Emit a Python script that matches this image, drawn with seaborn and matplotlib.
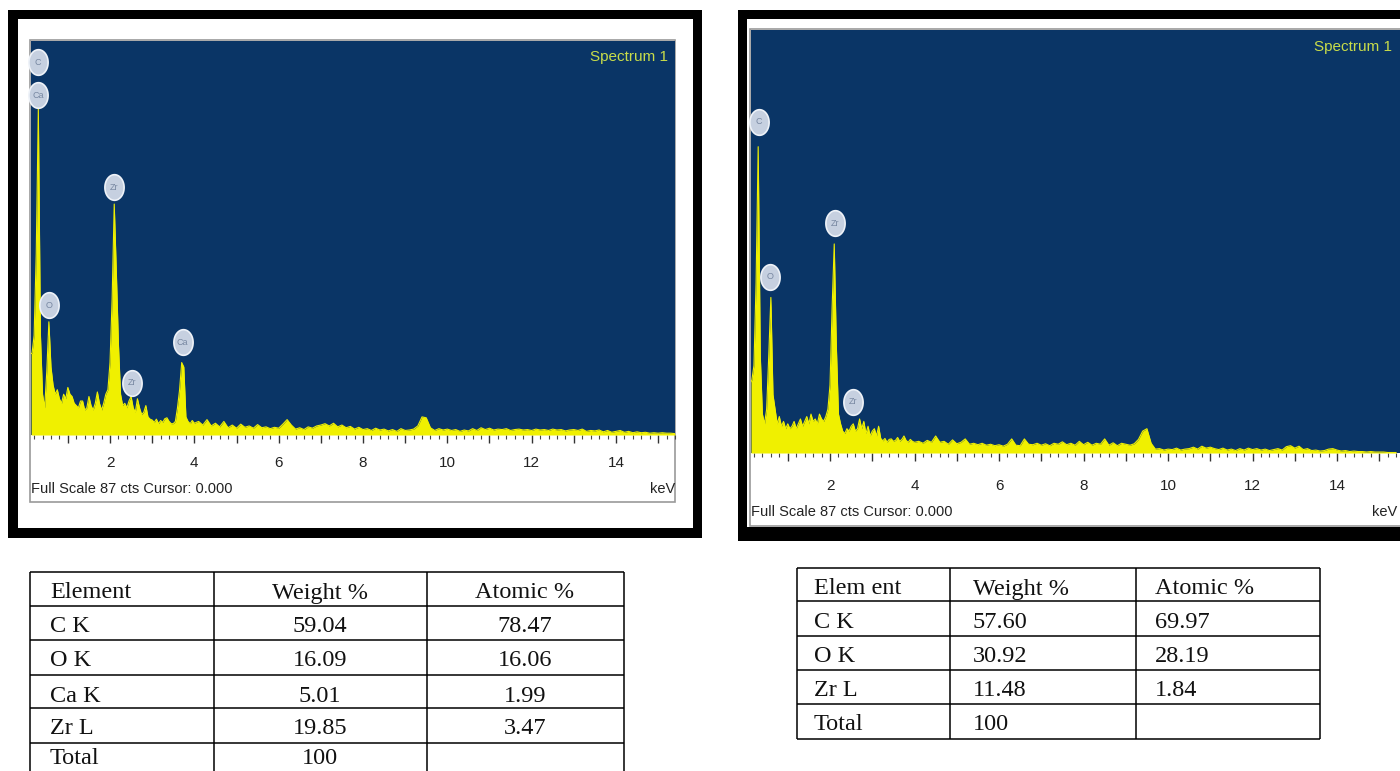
import numpy as np
import matplotlib
matplotlib.use("Agg")
import matplotlib.pyplot as plt
import seaborn as sns
from matplotlib.patches import Rectangle
from matplotlib.path import Path

# ---------------- data ----------------
energy_low = np.concatenate([[0.13], np.round(np.arange(0.15, 4.0001, 0.05), 2)])
energy_high = np.round(np.arange(4.1, 15.4001, 0.1), 1)
energy_keV = np.concatenate([energy_low, energy_high])

counts_left_low = [
    18, 18, 22, 40, 72, 22, 9, 6, 14,
    25, 15, 11, 9, 10, 8, 7, 9, 8, 10.5,
    9, 8.5, 7, 6.5, 6, 7.5, 7.5, 5.5, 6, 8.5,
    6.5, 5.5, 7, 9.5, 7, 5.5, 7, 9, 10, 16,
    30, 51, 36, 20, 9, 6.5, 7, 6, 7.5, 8.5,
    6, 5, 8, 6, 4.5, 5, 6.5, 4, 3.5, 3.3,
    2.8, 3.5, 2.5, 3.2, 2.8, 3.6, 3.8, 3.0, 2.5, 2.5,
    3.0, 6, 10, 16, 15, 4, 3, 2.5, 3.2, 2.6,
]
counts_left_high = [
    3.0, 2.2, 3.4, 2.0, 2.6, 1.8, 3.0, 1.6, 2.2, 1.5,
    2.4, 1.7, 2.0, 1.5, 2.3, 1.6, 1.8, 1.4, 1.7, 1.5,
    2.4, 3.4, 2.2, 1.3, 1.6, 1.2, 1.8, 1.5, 2.0, 2.2,
    2.5, 2.0, 2.6, 1.8, 2.2, 1.6, 1.9, 1.3, 1.7, 1.2,
    1.4, 1.0, 1.5, 1.1, 1.3, 0.9, 1.2, 0.8, 1.4, 1.0,
    1.1, 1.3, 2.0, 4.0, 3.8, 1.6, 1.0, 1.4, 1.1, 1.3,
    1.0, 1.2, 0.8, 1.1, 0.9, 1.4, 1.0, 1.6, 1.2, 1.5,
    1.1, 1.3, 1.2, 1.4, 1.0, 1.2, 1.3, 1.1, 1.2, 1.0,
    1.3, 1.1, 1.2, 1.0, 1.3, 1.1, 1.2, 0.9, 1.1, 1.2,
    1.0, 1.3, 0.8, 1.0, 0.9, 1.1, 0.7, 1.0, 0.6, 0.8,
    1.0, 0.6, 0.8, 0.5, 0.7, 0.5, 0.6, 0.4, 0.5, 0.4,
    0.5, 0.4, 0.4, 0.3,
]
counts_right_low = [
    14.6, 15, 18, 35, 63, 20, 8, 6, 9,
    20, 32, 12, 9, 6, 7.5, 5.5, 6.5, 5, 6,
    5, 5.5, 6.5, 5, 6, 7, 5.5, 6.5, 7.5, 6,
    8, 6.5, 7, 6, 8, 7, 6.5, 7.5, 9, 14,
    30, 43, 22, 8, 6, 4.5, 4, 5, 4.5, 5.5,
    6, 4.5, 5, 7, 5, 6.5, 4, 5.5, 3.5, 4.5,
    5, 3.5, 5.5, 3, 2.5, 3, 2.2, 2.8, 2.9, 2.4,
    2.6, 3.2, 2.4, 2.8, 3.5, 2.6, 2.2, 2.8, 2.4, 2.2,
]
counts_right_high = [
    2.4, 2.0, 2.6, 2.2, 3.5, 2.2, 2.4, 1.8, 2.7, 1.9,
    2.2, 2.9, 1.8, 2.0, 1.7, 2.0, 1.6, 1.8, 1.5, 1.7,
    1.4, 1.8, 2.9, 1.6, 1.5, 2.9, 1.8, 1.7, 2.0, 1.6,
    1.9, 1.5, 2.0, 1.8, 2.3, 1.7, 2.0, 1.6, 2.4, 1.7,
    2.2, 1.6, 2.0, 1.8, 2.9, 1.6, 2.1, 1.5, 2.0, 1.8,
    1.6, 1.9, 2.8, 4.5, 5.0, 2.0, 0.8, 0.9, 0.6, 0.8,
    0.7, 1.0, 0.6, 0.8, 0.9, 1.2, 0.8, 1.4, 1.0, 1.2,
    0.9, 0.7, 1.0, 0.6, 0.8, 0.5, 0.9, 0.6, 1.0, 0.7,
    0.9, 0.6, 0.8, 0.5, 0.7, 0.9, 0.6, 1.3, 1.5, 1.0,
    1.4, 0.7, 0.9, 0.5, 0.6, 0.4, 0.5, 0.8, 0.9, 0.6,
    0.4, 0.5, 0.3, 0.4, 0.3, 0.3, 0.2, 0.3, 0.2, 0.2,
    0.2, 0.1, 0.1, 0.1,
]
counts_left = np.array(counts_left_low + counts_left_high)
counts_right = np.array(counts_right_low + counts_right_high)

left_peak_labels = ["C", "Ca", "O", "Zr", "Zr", "Ca"]
left_peak_keV = [0.29, 0.29, 0.55, 2.10, 2.52, 3.72]
left_peak_cts = [82.3, 75.0, 28.7, 54.7, 11.5, 20.5]
right_peak_labels = ["C", "O", "Zr", "Zr"]
right_peak_keV = [0.31, 0.59, 2.11, 2.54]
right_peak_cts = [68.1, 36.2, 47.3, 10.5]

tick_labels = ["", "2", "", "4", "", "6", "", "8", "", "10", "", "12", "", "14", ""]
full_scale_text = "Full Scale 87 cts Cursor: 0.000"
spectrum_title = "Spectrum 1"

table_header = ["Element", "Weight %", "Atomic %"]
table1_element = ["C K", "O K", "Ca K", "Zr L", "Total"]
table1_weight = ["59.04", "16.09", "5.01", "19.85", "100"]
table1_atomic = ["78.47", "16.06", "1.99", "3.47", ""]
table2_header = ["Elem ent", "Weight %", "Atomic %"]
table2_element = ["C K", "O K", "Zr L", "Total"]
table2_weight = ["57.60", "30.92", "11.48", "100"]
table2_atomic = ["69.97", "28.19", "1.84", ""]

# ---------------- style ----------------
sns.set_theme(style="white")
plt.rcParams['font.family'] = ['Liberation Sans Narrow', 'Liberation Sans', 'DejaVu Sans']

BLUE = "#0a3566"
YELLOW = "#f0f000"
W, H = 1400, 771

fig = plt.figure(figsize=(14, 7.71), dpi=100)
fig.patch.set_facecolor("white")
bg = fig.add_axes([0, 0, 1, 1])
bg.set_xlim(0, W)
bg.set_ylim(H, 0)
bg.axis("off")

# frames
bg.add_patch(Rectangle((8, 10), 694, 528, facecolor="black", edgecolor="none"))
bg.add_patch(Rectangle((18, 19), 675, 509, facecolor="white", edgecolor="none"))
bg.add_patch(Rectangle((30, 40), 645, 462, facecolor="white", edgecolor="#9a9a9a", lw=1.2))

bg.add_patch(Rectangle((738, 10), 700, 531, facecolor="black", edgecolor="none"))
bg.add_patch(Rectangle((747, 19), 700, 508, facecolor="white", edgecolor="none"))
bg.add_patch(Rectangle((750, 29), 700, 497, facecolor="white", edgecolor="#9a9a9a", lw=1.2))


def px_axes(x0, y0, x1, y1):
    return fig.add_axes([x0 / W, 1 - y1 / H, (x1 - x0) / W, (y1 - y0) / H])


t = np.linspace(0, 2 * np.pi, 60)
ellipse_marker = Path(np.column_stack([0.75 * np.cos(t), np.sin(t)]), closed=True)


def draw_spectrum(ax, counts, xlim, labels, lx, ly, pad, title_xy, fs_xy, kev_xy):
    ax.set_facecolor(BLUE)
    ax.fill_between(energy_keV, counts, 0, color=YELLOW, lw=0)
    sns.lineplot(x=energy_keV, y=counts, ax=ax, color=YELLOW, lw=0.8,
                 estimator=None, sort=False)
    ax.set_xlim(*xlim)
    ax.set_ylim(0, 87)
    ax.set_yticks([])
    ax.set_xticks(range(1, 16))
    ax.set_xticklabels(tick_labels)
    ax.set_xticks(np.arange(0.2, 15.41, 0.2), minor=True)
    ax.tick_params(axis="x", which="major", bottom=True, length=6, width=1,
                   color="#333333", direction="out", pad=pad, labelsize=11,
                   labelcolor="#222222")
    ax.tick_params(axis="x", which="minor", bottom=True, length=3, width=0.8,
                   color="#444444", direction="out")
    for s in ax.spines.values():
        s.set_visible(False)
    ax.set_xlabel("")
    ax.set_ylabel("")
    ax.scatter(lx, ly, marker=ellipse_marker, s=340, facecolor="#c6d0e0",
               edgecolor="#eef2f8", lw=1.2, zorder=5, clip_on=False)
    for lab, x, y in zip(labels, lx, ly):
        ax.text(x, y, lab, fontsize=6.5, color="#7888a2", ha="center", va="center",
                zorder=6)
    ax.text(*title_xy, spectrum_title, transform=bg.transData, ha="right",
            va="center", fontsize=11, color="#c8dc4a")
    ax.text(*fs_xy, full_scale_text, transform=bg.transData, ha="left",
            va="center", fontsize=10.5, color="#222222")
    ax.text(*kev_xy, "keV", transform=bg.transData, ha="right",
            va="center", fontsize=10.5, color="#222222")


axL = px_axes(31, 41, 675, 435)
draw_spectrum(axL, counts_left, (0.126, 15.40), left_peak_labels, left_peak_keV,
              left_peak_cts, 9, (668, 57), (31, 489), (675, 489))

axR = px_axes(751, 30, 1400, 453)
draw_spectrum(axR, counts_right, (0.130, 15.49), right_peak_labels, right_peak_keV,
              right_peak_cts, 13, (1392, 47), (751, 512), (1397, 512))


# ---------------- tables ----------------
def draw_table(cols, rows, col_bounds, row_bounds, text_x, aligns, fontsize):
    lw = 1.1
    y_top, y_bot = row_bounds[0], min(row_bounds[-1], H + 5)
    for x in col_bounds:
        bg.plot([x, x], [y_top, y_bot], color="black", lw=lw, solid_capstyle="butt")
    for y in row_bounds:
        if y <= H:
            bg.plot([col_bounds[0], col_bounds[-1]], [y, y], color="black", lw=lw,
                    solid_capstyle="butt")
    for r in range(rows):
        base = min(row_bounds[r] + 26.5, H - 6.5)
        for c in range(3):
            bg.text(text_x[c], base, cols[c][r], ha=aligns[c], va="baseline",
                    fontsize=fontsize, family=["Liberation Serif", "DejaVu Serif"],
                    color="#111111")


t1_cols = [[table_header[0]] + table1_element,
           [table_header[1]] + table1_weight,
           [table_header[2]] + table1_atomic]
draw_table(t1_cols, 6, [30, 214, 427, 624], [572, 606, 640, 675, 708, 743, 777],
           [50, 320, 525], ["left", "center", "center"], 17.5)

t2_cols = [[table2_header[0]] + table2_element,
           [table2_header[1]] + table2_weight,
           [table2_header[2]] + table2_atomic]
draw_table(t2_cols, 5, [797, 950, 1136, 1320], [568, 601, 636, 670, 704, 739],
           [814, 973, 1155], ["left", "left", "left"], 17.5)

fig.savefig("out.png", dpi=100, facecolor="white")
